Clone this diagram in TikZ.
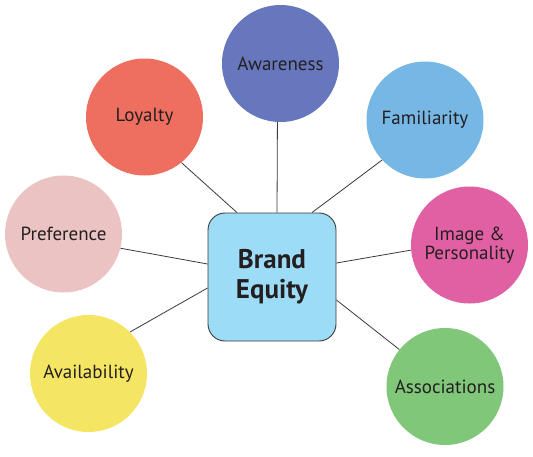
\documentclass[tikz,border=0pt]{standalone}
\usepackage{fontspec}
\setmainfont{PT Sans}
\usetikzlibrary{calc}
\definecolor{txt}{HTML}{231F20}
\definecolor{cAware}{HTML}{6777BD}
\definecolor{cLoyal}{HTML}{EE6F5F}
\definecolor{cFamil}{HTML}{76B7E5}
\definecolor{cPref}{HTML}{EBC3C3}
\definecolor{cImage}{HTML}{E160A4}
\definecolor{cAvail}{HTML}{F4E662}
\definecolor{cAssoc}{HTML}{80C77A}
\definecolor{cBox}{HTML}{9DDCF6}
\definecolor{lineC}{HTML}{3A3A3A}
\tikzset{
  bubble/.style={circle, minimum size=117pt, inner sep=0pt, text=txt, font=\fontsize{19}{19}\selectfont, align=center},
  centerbox/.style={draw=lineC, line width=0.9pt, fill=cBox, rounded corners=17pt, minimum width=128pt, minimum height=128pt, inner sep=0pt, text=txt, font=\fontsize{27}{30}\selectfont\bfseries, align=center},
  link/.style={draw=lineC, line width=0.8pt}
}
\begin{document}
\begin{tikzpicture}[x=1pt,y=-1pt]
\useasboundingbox (0,0) rectangle (533,456);
\node[centerbox] (be) at (272,277) {Brand\\Equity};
\node[bubble, fill=cAware] (aw) at (280.5,63.5) {Awareness};
\node[bubble, fill=cLoyal] (lo) at (144.5,117) {Loyalty};
\node[bubble, fill=cFamil] (fa) at (425,120) {Familiarity};
\node[bubble, fill=cPref] (pr) at (63.5,234) {Preference};
\node[bubble, fill=cImage] (im) at (469.5,245) {Image \&\\Personality};
\node[bubble, fill=cAvail] (av) at (88.5,373.5) {Availability};
\node[bubble, fill=cAssoc] (as) at (445,386.5) {Associations};
\coordinate (bAw) at ($(be.north)+(5,0)$);
\coordinate (bLo) at ($(be.north)+(-35,0)$);
\coordinate (bFa) at ($(be.north)+(40,0)$);
\coordinate (bPr) at ($(be.west)+(0,-13)$);
\coordinate (bAv) at ($(be.west)+(0,11)$);
\coordinate (bIm) at ($(be.east)+(0,-14)$);
\coordinate (bAs) at ($(be.east)+(0,23)$);
\draw[link] (aw.-93.4) -- (bAw);
\draw[link] (lo.-51.6) -- (bLo);
\draw[link] (fa.-137.7) -- (bFa);
\draw[link] (pr.-14.9) -- (bPr);
\draw[link] (av.45.7) -- (bAv);
\draw[link] (im.-175) -- (bIm);
\draw[link] (as.141) -- (bAs);
\end{tikzpicture}
\end{document}
